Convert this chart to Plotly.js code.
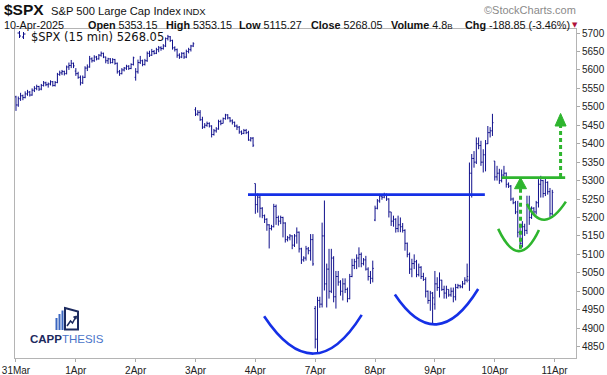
<!DOCTYPE html>
<html><head><meta charset="utf-8">
<script src="https://cdn.plot.ly/plotly-3.0.1.min.js"></script>
<style>html,body{margin:0;padding:0;background:#fff;}#chart{width:607px;height:375px;}</style>
</head><body><div id="chart"></div>
<script>
// ---- data (15-minute bars, 26 per session) ----
const dayLabels = ['31Mar','1Apr','2Apr','3Apr','4Apr','7Apr','8Apr','9Apr','10Apr','11Apr'];
const barsPerDay = 26;

const opens = [
 5527,5505,5522,5530,5525,5535,5540,5532,5545,5550,5555,5548,5558,5565,5560,5562,5568,5558,5566,5588,5592,5596,5590,5608,5612,5618,
 5597,5590,5580,5565,5580,5605,5608,5630,5625,5635,5630,5640,5645,5635,5625,5630,5620,5628,5618,5595,5590,5600,5605,5610,5604,5615,
 5580,5595,5620,5625,5615,5625,5645,5640,5650,5645,5655,5660,5658,5665,5685,5690,5680,5660,5655,5640,5635,5645,5635,5650,5655,5665,
 5492,5480,5485,5465,5445,5450,5455,5448,5425,5435,5440,5460,5455,5468,5478,5470,5462,5458,5448,5445,5432,5428,5436,5430,5410,5415,
 5292,5235,5255,5225,5205,5195,5180,5170,5175,5230,5200,5190,5200,5185,5140,5145,5150,5125,5150,5160,5115,5085,5090,5115,5110,5140,
 4953,4870,4975,4965,5150,5020,5060,5000,5090,4985,5040,5025,5000,5020,5005,4980,5040,5070,5080,5090,5100,5075,5085,5060,5040,5035,
 5193,5225,5245,5258,5255,5262,5250,5215,5190,5195,5170,5180,5175,5165,5130,5100,5060,5075,5080,5045,5065,5040,5032,5000,4975,4995,
 4965,5020,5010,5030,5005,4995,5005,4990,5000,4985,5010,5015,5012,5020,5030,5030,5320,5360,5350,5400,5395,5350,5370,5400,5430,5435,
 5353,5310,5320,5300,5315,5320,5290,5285,5250,5240,5215,5160,5130,5175,5165,5230,5200,5225,5215,5240,5290,5300,5265,5295,5270,5210
];
const highs = [
 5530,5528,5538,5533,5542,5546,5543,5550,5556,5560,5557,5562,5570,5568,5566,5572,5570,5570,5592,5598,5600,5598,5612,5620,5627,5620,
 5605,5595,5585,5585,5610,5615,5638,5634,5640,5638,5643,5650,5647,5636,5633,5632,5632,5630,5620,5600,5605,5608,5614,5613,5618,5636,
 5605,5628,5638,5628,5630,5650,5652,5657,5654,5660,5665,5664,5670,5688,5695,5692,5682,5664,5658,5645,5648,5648,5655,5660,5668,5675,
 5499,5491,5491,5473,5456,5460,5458,5450,5440,5445,5465,5465,5471,5481,5480,5472,5466,5460,5452,5448,5436,5440,5440,5435,5418,5418,
 5292,5265,5258,5228,5208,5198,5182,5180,5237,5235,5205,5205,5202,5187,5150,5155,5152,5155,5173,5162,5118,5095,5123,5120,5155,5155,
 4960,4985,4985,5186,5246,5075,5115,5115,5095,5055,5055,5030,5035,5035,5010,5047,5088,5088,5100,5119,5105,5090,5096,5065,5055,5083,
 5232,5250,5264,5262,5267,5265,5252,5215,5205,5198,5205,5200,5185,5168,5132,5105,5088,5100,5085,5075,5068,5050,5038,5002,5001,4998,
 5055,5038,5051,5031,5015,5015,5005,5010,5010,5020,5020,5018,5028,5038,5075,5349,5372,5380,5417,5417,5408,5385,5410,5448,5445,5481,
 5353,5340,5332,5330,5340,5322,5295,5288,5254,5245,5245,5183,5190,5183,5259,5259,5230,5228,5245,5304,5313,5302,5305,5298,5280,5275
];
const lows = [
 5489,5500,5516,5518,5523,5530,5528,5530,5540,5545,5543,5545,5555,5556,5552,5558,5555,5555,5564,5584,5586,5585,5588,5600,5605,5605,
 5584,5576,5558,5562,5578,5597,5606,5620,5622,5626,5628,5636,5632,5618,5616,5617,5618,5614,5590,5584,5588,5596,5600,5600,5602,5612,
 5571,5590,5616,5610,5612,5622,5635,5638,5642,5643,5648,5652,5655,5662,5680,5676,5655,5650,5633,5630,5632,5630,5632,5645,5650,5662,
 5475,5476,5462,5440,5442,5446,5444,5417,5422,5430,5438,5450,5455,5465,5466,5458,5452,5445,5437,5427,5424,5426,5426,5408,5406,5391,
 5210,5213,5200,5198,5185,5164,5116,5165,5173,5180,5178,5182,5146,5132,5135,5138,5114,5120,5129,5105,5074,5080,5083,5100,5083,5069,
 4845,4835,4955,4956,5002,4956,4980,4995,4970,4953,5015,4988,4975,4995,4970,4978,5038,5060,5060,5065,5065,5070,5056,5029,5020,5024,
 5190,5222,5240,5248,5252,5245,5200,5177,5175,5159,5160,5160,5159,5110,5092,5047,5038,5060,5038,5040,5033,5028,4983,4966,4947,4910,
 4950,5001,4983,5001,4980,4980,4985,4985,4970,4975,5007,5008,5008,5018,5024,5001,5254,5335,5345,5385,5340,5322,5325,5399,5417,5421,
 5300,5300,5291,5295,5310,5281,5280,5245,5236,5209,5146,5115,5119,5150,5155,5180,5196,5210,5208,5227,5254,5254,5258,5262,5200,5205
];
const closes = [
 5505,5522,5530,5525,5535,5540,5532,5545,5550,5555,5548,5558,5565,5560,5562,5568,5558,5566,5588,5592,5596,5590,5608,5612,5618,5611,
 5590,5580,5565,5580,5605,5608,5630,5625,5635,5630,5640,5645,5635,5625,5630,5620,5628,5618,5595,5590,5600,5605,5610,5604,5615,5633,
 5595,5620,5625,5615,5625,5645,5640,5650,5645,5655,5660,5658,5665,5685,5690,5680,5660,5655,5640,5635,5645,5635,5650,5655,5665,5671,
 5480,5485,5465,5445,5450,5455,5448,5425,5435,5440,5460,5455,5468,5478,5470,5462,5458,5448,5445,5432,5428,5436,5430,5410,5415,5396,
 5235,5255,5225,5205,5195,5180,5170,5175,5230,5200,5190,5200,5185,5140,5145,5150,5125,5150,5160,5115,5085,5090,5115,5110,5140,5074,
 4870,4975,4965,5150,5020,5060,5000,5090,4985,5040,5025,5000,5020,5005,4980,5040,5070,5080,5090,5100,5075,5085,5060,5040,5035,5062,
 5225,5245,5258,5255,5262,5250,5215,5190,5195,5170,5180,5175,5165,5130,5100,5060,5075,5080,5045,5065,5040,5032,5000,4975,4995,4982,
 5020,5010,5030,5005,4995,5005,4990,5000,4985,5010,5015,5012,5020,5030,5040,5320,5360,5350,5400,5395,5350,5370,5400,5430,5435,5457,
 5310,5320,5300,5315,5320,5290,5285,5250,5240,5215,5160,5130,5175,5165,5230,5200,5225,5215,5240,5290,5300,5265,5295,5270,5210,5268
];
const yTicks = [4850,4900,4950,5000,5050,5100,5150,5200,5250,5300,5350,5400,5450,5500,5550,5600,5650,5700];

// pattern levels (price) drawn on the chart
const necklineBlue = 5262;
const necklineGreen = 5308;

// ---- layout helpers ----
const W=607,H=375,ML=15,MR=31,MT=29,MB=17;
const PW=W-ML-MR, PH=H-MT-MB;
const px = x => (x-ML)/PW;
const py = y => (H-MB-y)/PH;

const xIdx = opens.map((_,i)=>i);
const NAVY = '#10108c';
const BLUE = '#1530e6';
const GREEN = '#2eb52e';
const FONT = 'Liberation Sans, Arial, sans-serif';

const trace = {
  type:'ohlc', x:xIdx, open:opens, high:highs, low:lows, close:closes,
  increasing:{line:{color:NAVY,width:1}}, decreasing:{line:{color:NAVY,width:1}},
  tickwidth:0.45, hoverinfo:'skip', showlegend:false
};

function ppath(pts){ return 'M '+pts.map(p=>px(p[0])+','+py(p[1])).join(' L ')+' Z'; }
function ppathOpen(pts){ return 'M '+pts.map(p=>px(p[0])+','+py(p[1])).join(' L '); }

const shapes = [
  // blue neckline & cups
  {type:'line', xref:'x', yref:'y', x0:100.8, x1:203.7, y0:necklineBlue, y1:necklineBlue, line:{color:BLUE,width:2.6}},
  {type:'path', xref:'x', yref:'y', path:'M 107.8,4932 Q 129.5,4728 150.2,4936', line:{color:BLUE,width:2.6}},
  {type:'path', xref:'x', yref:'y', path:'M 164.6,4991 Q 182.7,4822 200.8,5006', line:{color:BLUE,width:2.6}},
  // green neckline & cups
  {type:'line', xref:'x', yref:'y', x0:211, x1:238.6, y0:necklineGreen, y1:necklineGreen, line:{color:GREEN,width:2.6}},
  {type:'path', xref:'x', yref:'y', path:'M 209.5,5169 Q 218.5,5050 227.2,5166', line:{color:GREEN,width:2.6}},
  {type:'path', xref:'x', yref:'y', path:'M 222,5237 Q 228.9,5148 238.9,5243', line:{color:GREEN,width:2.6}},
  // green dashed arrows
  {type:'line', xref:'x', yref:'y', x0:219.2, x1:219.2, y0:5115, y1:5280, line:{color:GREEN,width:3,dash:'4px,3px'}},
  {type:'path', xref:'x', yref:'y', path:'M 216.6,5278 L 221.8,5278 L 219.2,5308 Z', fillcolor:GREEN, line:{color:GREEN,width:1}},
  {type:'line', xref:'x', yref:'y', x0:236.6, x1:236.6, y0:5310, y1:5450, line:{color:GREEN,width:3,dash:'4px,3px'}},
  {type:'path', xref:'x', yref:'y', path:'M 234.2,5448 L 239,5448 L 236.6,5482 Z', fillcolor:GREEN, line:{color:GREEN,width:1}},
  // legend icon (small OHLC glyph)
  {type:'line', xref:'paper', yref:'paper', x0:px(19.5), x1:px(19.5), y0:py(31), y1:py(38), line:{color:NAVY,width:1}},
  {type:'line', xref:'paper', yref:'paper', x0:px(17.5), x1:px(19.5), y0:py(33), y1:py(33), line:{color:NAVY,width:1}},
  {type:'line', xref:'paper', yref:'paper', x0:px(19.5), x1:px(21), y0:py(36), y1:py(36), line:{color:NAVY,width:1}},
  {type:'line', xref:'paper', yref:'paper', x0:px(23.5), x1:px(23.5), y0:py(32), y1:py(39), line:{color:NAVY,width:1}},
  {type:'line', xref:'paper', yref:'paper', x0:px(22), x1:px(23.5), y0:py(37), y1:py(37), line:{color:NAVY,width:1}},
  {type:'line', xref:'paper', yref:'paper', x0:px(23.5), x1:px(25.5), y0:py(34), y1:py(34), line:{color:NAVY,width:1}},
  // logo icon: three bars
  {type:'rect', xref:'paper', yref:'paper', x0:px(55.5), x1:px(57.5), y0:py(330), y1:py(318), fillcolor:'#3b66c0', line:{width:0}},
  {type:'rect', xref:'paper', yref:'paper', x0:px(58.5), x1:px(60.5), y0:py(330), y1:py(314), fillcolor:'#3b66c0', line:{width:0}},
  {type:'rect', xref:'paper', yref:'paper', x0:px(61.5), x1:px(63.5), y0:py(330), y1:py(310.5), fillcolor:'#3b66c0', line:{width:0}},
  // logo icon: frame with rising arrow
  {type:'path', xref:'paper', yref:'paper', path:ppath([[65,308],[78,311.5],[78,329.5],[65,329.5]]), fillcolor:'rgba(0,0,0,0)', line:{color:'#1c2a5e',width:2}},
  {type:'path', xref:'paper', yref:'paper', path:ppathOpen([[67,326],[70.5,321],[72.5,323],[75.5,317.5]]), line:{color:'#1c2a5e',width:1.5}},
  {type:'path', xref:'paper', yref:'paper', path:ppath([[73.5,317],[76.5,316],[76,319.2]]), fillcolor:'#1c2a5e', line:{color:'#1c2a5e',width:1}}
];

function ann(x,y,text,size,opts){
  return Object.assign({xref:'paper',yref:'paper',x:px(x),y:py(y),text:text,showarrow:false,
    xanchor:'left',yanchor:'middle',font:{family:FONT,size:size,color:'#111'}},opts||{});
}
const annotations = [
  ann(2,9.5,'<b>$SPX</b>',15.5),
  ann(49,11,'S&P 500 Large Cap Index',11.2),
  ann(181,11.5,'INDX',9.5),
  ann(578,10,'©StockCharts.com',11,{xanchor:'right',font:{family:FONT,size:11,color:'#8a8a8a'}}),
  ann(2,24.5,'10-Apr-2025',10.8),
  ann(86,24.5,'<b>Open</b> 5353.15',10.8),
  ann(164,24.5,'<b>High</b> 5353.15',10.8),
  ann(237,24.5,'<b>Low</b> 5115.27',10.8),
  ann(309,24.5,'<b>Close</b> 5268.05',10.8),
  ann(389,24.5,'<b>Volume</b> 4.8<span style="font-size:8px">B</span>',10.8),
  ann(463,24.5,'<b>Chg</b> -188.85 (-3.46%)',10.8),
  ann(570,24.5,'▼',7,{font:{family:'DejaVu Sans',size:7,color:'#b0103a'}}),
  ann(29,37,'$SPX (15 min) 5268.05',11.5,{font:{family:'DejaVu Sans',size:11.5,color:'#111'}}),
  ann(28,338.5,'<b>CAPP</b><span style="color:#4a74c9">THESIS</span>',11.5,{font:{family:'Liberation Sans',size:11.5,color:'#1c2a5e'}})
];

const layout = {
  width:W, height:H, margin:{l:ML,r:MR,t:MT,b:MB,pad:0},
  paper_bgcolor:'#fff', plot_bgcolor:'#fff', showlegend:false,
  xaxis:{range:[-0.43,243.3], tickvals:dayLabels.map((_,i)=>i*barsPerDay), ticktext:dayLabels,
    showgrid:false, zeroline:false, ticks:'outside', ticklen:3, tickcolor:'#aaa',
    showline:true, linecolor:'#b4b4b4', linewidth:1, mirror:true,
    tickfont:{family:FONT,size:10,color:'#222'}, rangeslider:{visible:false}, fixedrange:true},
  yaxis:{range:[4819,5711], side:'right', tickvals:yTicks, showgrid:false, zeroline:false,
    ticks:'outside', ticklen:3, tickcolor:'#aaa', showline:true, linecolor:'#b4b4b4', linewidth:1, mirror:true,
    tickfont:{family:FONT,size:10,color:'#222'}, fixedrange:true},
  shapes:shapes, annotations:annotations
};
Plotly.newPlot('chart',[trace],layout,{staticPlot:true,displayModeBar:false});
</script></body></html>
